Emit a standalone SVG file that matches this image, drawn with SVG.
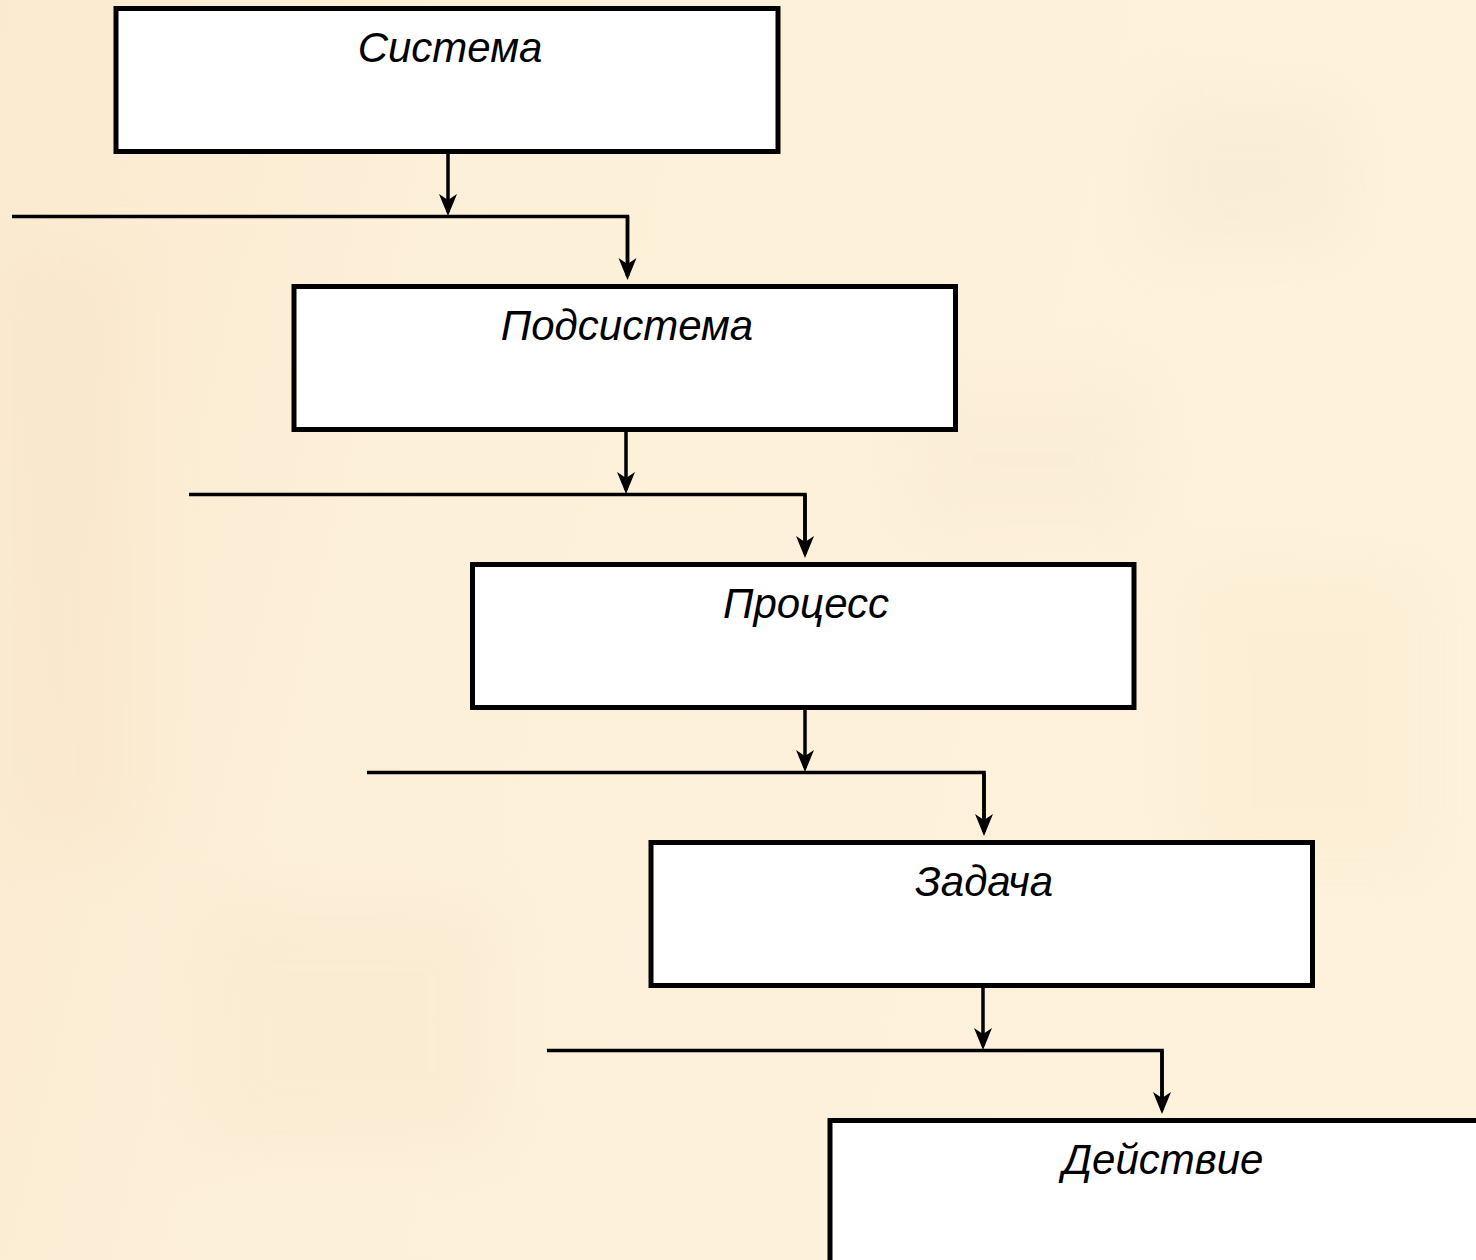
<svg xmlns="http://www.w3.org/2000/svg" width="1476" height="1260" viewBox="0 0 1476 1260">
  <defs>
    <linearGradient id="bg" x1="0" y1="0" x2="1" y2="0.2">
      <stop offset="0" stop-color="#FAEACF"/>
      <stop offset="0.35" stop-color="#FDF0D9"/>
      <stop offset="1" stop-color="#FEF2DD"/>
    </linearGradient>
    <filter id="soft" x="-50%" y="-50%" width="200%" height="200%">
      <feGaussianBlur stdDeviation="30"/>
    </filter>
    <marker id="arr" markerUnits="userSpaceOnUse" viewBox="0 -10 24 20" markerWidth="24" markerHeight="20" refX="18" refY="0" orient="auto">
      <path d="M0,-9 L22,0 L0,9 L6,0 Z" fill="#000"/>
    </marker>
  </defs>
  <style>
    .box { fill: #FFFFFF; stroke: #000000; stroke-width: 5; }
    .lbl { font-family: "Liberation Sans", Arial, sans-serif; font-style: italic; font-size: 42px; fill: #000000; text-anchor: middle; }
    .con { fill: none; stroke: #000000; stroke-width: 3.5; }
    .arrow { marker-end: url(#arr); }
  </style>

  <rect x="0" y="0" width="1476" height="1260" fill="url(#bg)"/>
  <g filter="url(#soft)" opacity="0.3">
    <rect x="0" y="250" width="140" height="600" fill="#F5DFC2"/>
    <rect x="1150" y="100" width="200" height="150" fill="#F3E4CC"/>
    <rect x="1180" y="560" width="260" height="320" fill="#F8E8C6"/>
    <rect x="200" y="900" width="300" height="250" fill="#F6E4C8"/>
    <rect x="900" y="380" width="250" height="160" fill="#F6E6CC"/>
  </g>

  <g id="connectors">
    <path class="con arrow" d="M448,154 V212"/>
    <path class="con" d="M12,216.5 H627.5 V276"/>
    <path class="con arrow" d="M627.5,216.5 V276"/>

    <path class="con arrow" d="M626,432 V490"/>
    <path class="con" d="M189,494.5 H805 V554"/>
    <path class="con arrow" d="M805,494.5 V554"/>

    <path class="con arrow" d="M805,710 V768"/>
    <path class="con" d="M367,772.5 H984 V832"/>
    <path class="con arrow" d="M984,772.5 V832"/>

    <path class="con arrow" d="M983,988 V1046"/>
    <path class="con" d="M547,1050.5 H1162 V1110"/>
    <path class="con arrow" d="M1162,1050.5 V1110"/>
  </g>

  <g id="node-sistema">
    <rect class="box" x="116" y="8.5" width="662" height="143"/>
    <text class="lbl" x="450" y="62">Система</text>
  </g>
  <g id="node-podsistema">
    <rect class="box" x="294" y="286.5" width="661.5" height="143"/>
    <text class="lbl" x="627" y="340">Подсистема</text>
  </g>
  <g id="node-protsess">
    <rect class="box" x="472.5" y="564.5" width="661.5" height="143"/>
    <text class="lbl" x="806" y="618">Процесс</text>
  </g>
  <g id="node-zadacha">
    <rect class="box" x="651" y="842.5" width="661.5" height="143"/>
    <text class="lbl" x="984" y="896">Задача</text>
  </g>
  <g id="node-deistvie">
    <rect class="box" x="830" y="1120.5" width="661.5" height="143"/>
    <text class="lbl" x="1163" y="1174">Действие</text>
  </g>
</svg>
